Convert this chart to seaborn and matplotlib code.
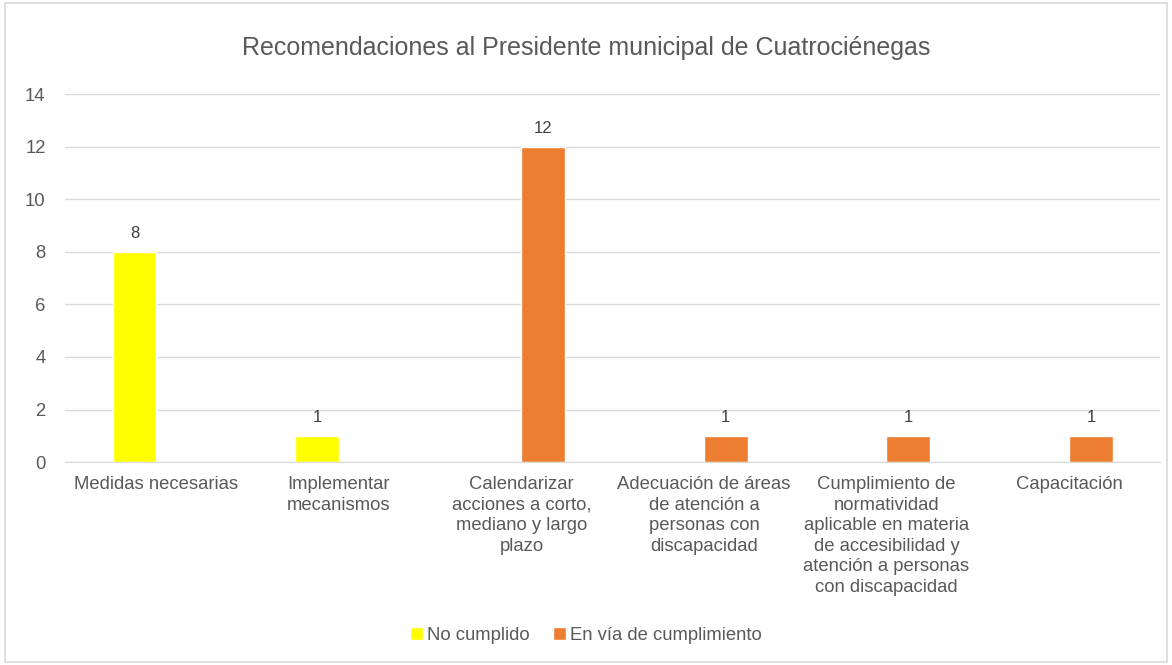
"""
Recomendaciones al Presidente municipal de Cuatrociénegas
"""

import pandas as pd
import seaborn as sns
import matplotlib.pyplot as plt
from matplotlib.patches import Rectangle

sns.set_style('white')
plt.rcParams['font.family'] = ['Liberation Sans', 'DejaVu Sans']

# Data

categories = ['Medidas necesarias',
              'Implementar\nmecanismos',
              'Calendarizar\nacciones a corto,\nmediano y largo\nplazo',
              'Adecuación de áreas\nde atención a\npersonas con\ndiscapacidad',
              'Cumplimiento de\nnormatividad\naplicable en materia\nde accesibilidad y\natención a personas\ncon discapacidad',
              'Capacitación']
statuses = ['No cumplido', 'En vía de cumplimiento']
no_cumplido = [8, 1, 0, 0, 0, 0]
en_via = [0, 0, 12, 1, 1, 1]

df = pd.DataFrame({
    'Categoria': categories * 2,
    'Estado': [statuses[0]] * len(categories) + [statuses[1]] * len(categories),
    'Valor': no_cumplido + en_via,
})

colors = {'No cumplido': '#FFFF00', 'En vía de cumplimiento': '#ED7D31'}
grey = '#595959'

fig = plt.figure(figsize=(11.72, 6.65), dpi=100)
ax = fig.add_axes([0.0555, 0.305, 0.9345, 0.5536])

sns.barplot(data=df, x='Categoria', y='Valor', hue='Estado', order=categories,
            hue_order=statuses, palette=colors, width=0.48, ax=ax, saturation=1)

for cont in ax.containers:
    labels = ['{:g}'.format(v) if v > 0 else '' for v in cont.datavalues]
    ax.bar_label(cont, labels=labels, padding=8, fontsize=12, color='#404040')

ax.set_ylim(0, 14)
ax.set_yticks(range(0, 15, 2))
ax.set_xlim(-0.5, 5.5)
ax.yaxis.grid(True, color='#D9D9D9', linewidth=1)
ax.set_axisbelow(True)
for s in ['top', 'right', 'left']:
    ax.spines[s].set_visible(False)
ax.spines['bottom'].set_color('#D9D9D9')
ax.tick_params(axis='both', length=0, labelsize=13.3, labelcolor=grey)
ax.tick_params(axis='x', pad=10)
ax.tick_params(axis='y', pad=14)
ax.set_xlabel('')
ax.set_ylabel('')
for t in ax.get_xticklabels():
    t.set_linespacing(1.27)

fig.text(0.5, 0.928, 'Recomendaciones al Presidente municipal de Cuatrociénegas',
         ha='center', va='center', fontsize=18, color=grey)

handles, labs = ax.get_legend_handles_labels()
ax.legend(handles, labs, loc='center', bbox_to_anchor=(0.5, 0.045),
          bbox_transform=fig.transFigure, ncol=2, frameon=False, fontsize=13.3,
          labelcolor=grey, handlelength=0.7, handleheight=0.7,
          handletextpad=0.2, columnspacing=1.3)

fig.patches.append(Rectangle((0.004, 0.004), 0.992, 0.992, transform=fig.transFigure,
                             fill=False, edgecolor='#D9D9D9', linewidth=1.2))

plt.savefig('out.png', dpi=100)
